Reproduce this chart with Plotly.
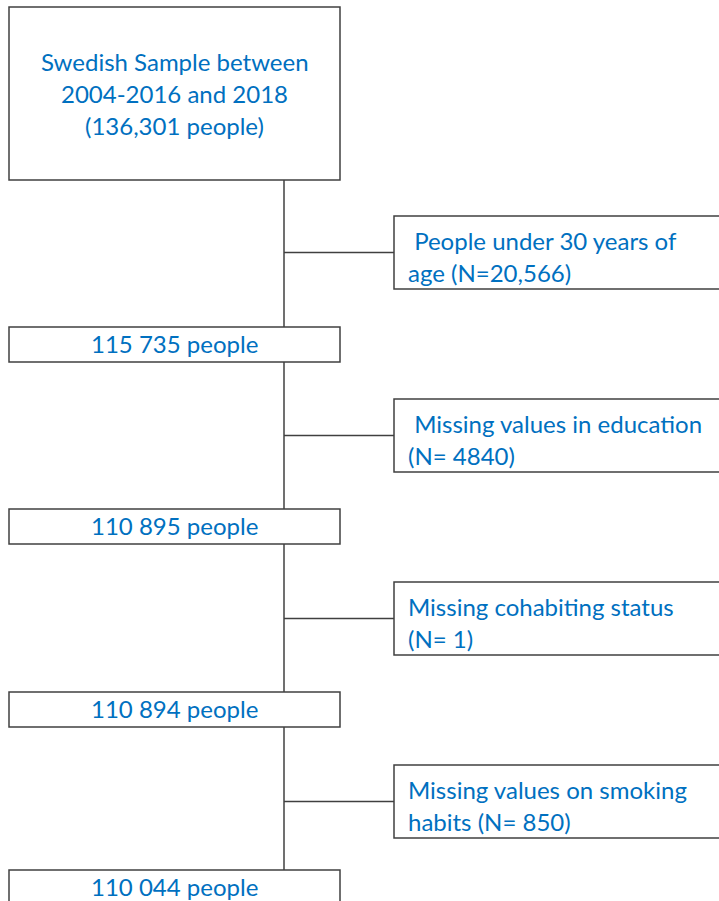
import plotly.graph_objects as go

# ---- data ----
start_label = ["Swedish Sample between", "2004-2016 and 2018", "(136,301 people)"]
remaining_counts = ["115 735", "110 895", "110 894", "110 044"]
exclusion_labels = [
    [" People under 30 years of", "age (N=20,566)"],
    [" Missing values in education", "(N= 4840)"],
    ["Missing cohabiting status", "(N= 1)"],
    ["Missing values on smoking", "habits (N= 850)"],
]

# ---- layout constants ----
W, H = 719, 901
LINE = "#404040"
TXT = "#0070C0"
FONT = "Lato"
FS = 24
BOX_X0, BOX_X1 = 9, 340
STEM_X = 284
EX_X0, EX_X1 = 394, 740
TOP_Y0, TOP_Y1 = 7, 180
step_y0 = [327, 509, 692, 870]     # top of each remaining box
BOX_H = 35
ex_y0 = [216, 399, 582, 765]
EX_H = 73
LS = 32

shapes = []
annotations = []

def rect(x0, y0, x1, y1):
    shapes.append(dict(type="rect", x0=x0, x1=x1, y0=y0, y1=y1,
                       line=dict(color=LINE, width=1.5), fillcolor="white", layer="above"))

def line(x0, y0, x1, y1):
    shapes.append(dict(type="line", x0=x0, x1=x1, y0=y0, y1=y1,
                       line=dict(color=LINE, width=1.5), layer="below"))

def text(x, y, s, anchor="center"):
    annotations.append(dict(x=x, y=y, text=s, showarrow=False, xanchor=anchor,
                            yanchor="middle", font=dict(family=FONT, size=FS, color=TXT)))

# top box
rect(BOX_X0, TOP_Y0, BOX_X1, TOP_Y1)
cx = (BOX_X0 + BOX_X1) / 2
mid = (TOP_Y0 + TOP_Y1) / 2 - 0.5
for i, s in enumerate(start_label):
    text(cx, mid + (i - 1) * LS, s)

prev_bottom = TOP_Y1
for k, cnt in enumerate(remaining_counts):
    y0 = step_y0[k]
    line(STEM_X, prev_bottom, STEM_X, y0)
    ey0 = ex_y0[k]
    ey_mid = ey0 + EX_H / 2
    line(STEM_X, ey_mid, EX_X0, ey_mid)
    rect(EX_X0, ey0, EX_X1, ey0 + EX_H)
    labs = exclusion_labels[k]
    for j, s in enumerate(labs):
        t = "&nbsp;" + s[1:] if s.startswith(" ") else s
        text(EX_X0 + 12, ey_mid + 4 + (j - 0.5) * LS, t, anchor="left")
    rect(BOX_X0, y0, BOX_X1, y0 + BOX_H)
    text(cx, y0 + BOX_H / 2 - 1, f"{cnt} people")
    prev_bottom = y0 + BOX_H

fig = go.Figure()
fig.update_layout(
    width=W, height=H, margin=dict(l=0, r=0, t=0, b=0),
    paper_bgcolor="white", plot_bgcolor="white",
    xaxis=dict(range=[0, W], visible=False, fixedrange=True),
    yaxis=dict(range=[H, 0], visible=False, fixedrange=True),
    shapes=shapes, annotations=annotations, showlegend=False,
)
fig.write_html("out.html", config={"displayModeBar": False},
               post_script="document.body.style.margin='0';document.body.style.overflow='hidden';")
